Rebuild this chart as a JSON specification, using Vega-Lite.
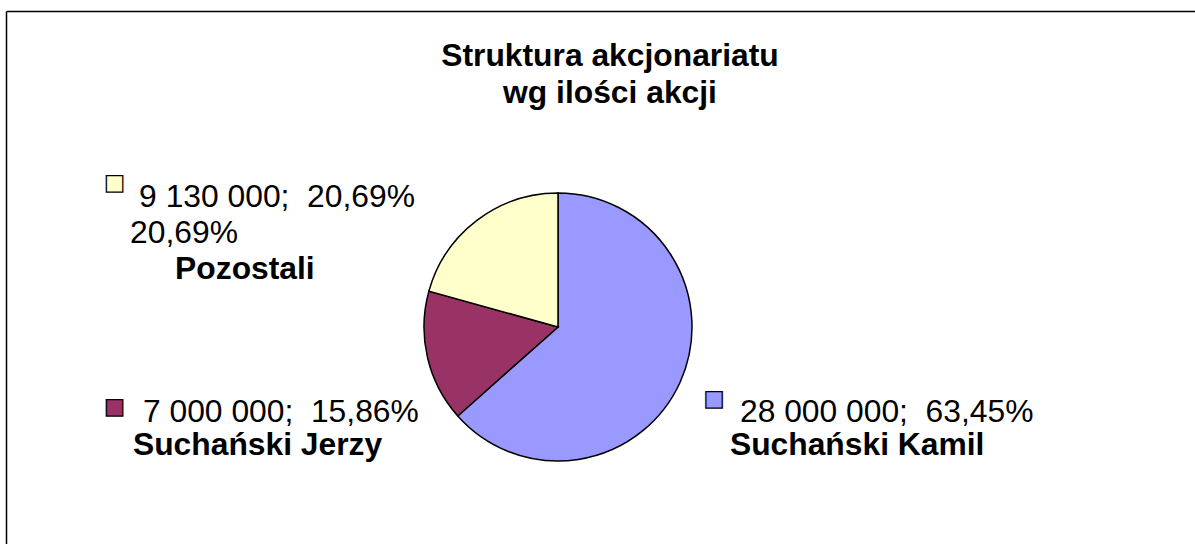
{
  "$schema": "https://vega.github.io/schema/vega-lite/v6.json",
  "width": 1189,
  "height": 533,
  "autosize": {"type": "none"},
  "padding": {"left": 6, "top": 11, "right": 0, "bottom": 0},
  "background": "white",
  "config": {"view": {"stroke": null}, "font": "Liberation Sans"},
  "title": {
    "text": ["Struktura akcjonariatu", "wg ilości akcji"],
    "font": "Liberation Sans",
    "fontSize": 31.8,
    "fontWeight": "bold",
    "color": "black",
    "anchor": "middle",
    "frame": "group",
    "lineHeight": 37,
    "offset": 0,
    "dx": 9.5,
    "dy": 99
  },
  "data": {
    "values": [
      {"cat": "Suchański Kamil", "k": "K", "value": 28000000, "l1": "28 000 000;\u00a0 63,45%", "name": "Suchański Kamil"},
      {"cat": "Suchański Jerzy", "k": "J", "value": 7000000, "l1": "7 000 000;\u00a0 15,86%", "name": "Suchański Jerzy"},
      {"cat": "Pozostali", "k": "P", "value": 9130000, "l1": "9 130 000;\u00a0 20,69%", "l2": "20,69%", "name": "Pozostali"}
    ]
  },
  "layer": [
    {
      "data": {"values": [{}]},
      "mark": {"type": "point", "opacity": 0},
      "encoding": {
        "x": {"datum": 0, "type": "quantitative", "scale": {"domain": [-1, 1]}, "axis": {"orient": "top", "ticks": false, "labels": false, "grid": false, "title": null, "domainColor": "black", "domainWidth": 1.5}},
        "y": {"datum": 0, "type": "quantitative", "scale": {"domain": [-1, 1]}, "axis": {"orient": "left", "ticks": false, "labels": false, "grid": false, "title": null, "domainColor": "black", "domainWidth": 1.5}}
      }
    },
    {
      "mark": {"type": "arc", "outerRadius": 134, "stroke": "black", "strokeWidth": 1.5, "xOffset": -42.5, "yOffset": 49.5},
      "encoding": {
        "theta": {"field": "value", "type": "quantitative", "stack": true},
        "color": {"field": "cat", "type": "nominal", "scale": {"domain": ["Suchański Kamil", "Suchański Jerzy", "Pozostali"], "range": ["#9999FF", "#993366", "#FFFFCC"]}, "legend": null},
        "order": {"field": "cat", "sort": "descending"}
      }
    },
    {
      "mark": {"type": "text", "radius": 170, "align": "center", "baseline": "middle", "font": "Liberation Sans", "fontSize": 34, "fill": "#FFFFCC", "stroke": "black", "strokeWidth": 1.3, "xOffset": -42.5, "yOffset": 49.5, "dx": -340.6, "dy": -7.6},
      "encoding": {
        "theta": {"field": "value", "type": "quantitative", "stack": true},
        "order": {"field": "cat", "sort": "descending"},
        "detail": {"field": "cat", "type": "nominal"},
        "text": {"condition": {"test": "datum.k === 'P'", "value": "■"}, "value": ""}
      }
    },
    {
      "mark": {"type": "text", "radius": 170, "align": "left", "baseline": "alphabetic", "font": "Liberation Sans", "fontSize": 31.8, "fill": "black", "xOffset": -42.5, "yOffset": 49.5, "dx": -316, "dy": 15.4},
      "encoding": {
        "theta": {"field": "value", "type": "quantitative", "stack": true},
        "order": {"field": "cat", "sort": "descending"},
        "detail": {"field": "cat", "type": "nominal"},
        "text": {"condition": {"test": "datum.k === 'P'", "field": "l1", "type": "nominal"}, "value": ""}
      }
    },
    {
      "mark": {"type": "text", "radius": 170, "align": "left", "baseline": "alphabetic", "font": "Liberation Sans", "fontSize": 31.8, "fill": "black", "xOffset": -42.5, "yOffset": 49.5, "dx": -325, "dy": 51.4},
      "encoding": {
        "theta": {"field": "value", "type": "quantitative", "stack": true},
        "order": {"field": "cat", "sort": "descending"},
        "detail": {"field": "cat", "type": "nominal"},
        "text": {"condition": {"test": "datum.k === 'P'", "field": "l2", "type": "nominal"}, "value": ""}
      }
    },
    {
      "mark": {"type": "text", "radius": 170, "align": "left", "baseline": "alphabetic", "font": "Liberation Sans", "fontSize": 31.8, "fontWeight": "bold", "fill": "black", "xOffset": -42.5, "yOffset": 49.5, "dx": -280, "dy": 87.4},
      "encoding": {
        "theta": {"field": "value", "type": "quantitative", "stack": true},
        "order": {"field": "cat", "sort": "descending"},
        "detail": {"field": "cat", "type": "nominal"},
        "text": {"condition": {"test": "datum.k === 'P'", "field": "name", "type": "nominal"}, "value": ""}
      }
    },
    {
      "mark": {"type": "text", "radius": 170, "align": "center", "baseline": "middle", "font": "Liberation Sans", "fontSize": 34, "fill": "#993366", "stroke": "black", "strokeWidth": 1.3, "xOffset": -42.5, "yOffset": 49.5, "dx": -277.9, "dy": 42.7},
      "encoding": {
        "theta": {"field": "value", "type": "quantitative", "stack": true},
        "order": {"field": "cat", "sort": "descending"},
        "detail": {"field": "cat", "type": "nominal"},
        "text": {"condition": {"test": "datum.k === 'J'", "value": "■"}, "value": ""}
      }
    },
    {
      "mark": {"type": "text", "radius": 170, "align": "left", "baseline": "alphabetic", "font": "Liberation Sans", "fontSize": 31.8, "fill": "black", "xOffset": -42.5, "yOffset": 49.5, "dx": -249.4, "dy": 56.7},
      "encoding": {
        "theta": {"field": "value", "type": "quantitative", "stack": true},
        "order": {"field": "cat", "sort": "descending"},
        "detail": {"field": "cat", "type": "nominal"},
        "text": {"condition": {"test": "datum.k === 'J'", "field": "l1", "type": "nominal"}, "value": ""}
      }
    },
    {
      "mark": {"type": "text", "radius": 170, "align": "left", "baseline": "alphabetic", "font": "Liberation Sans", "fontSize": 31.8, "fontWeight": "bold", "fill": "black", "xOffset": -42.5, "yOffset": 49.5, "dx": -259.4, "dy": 89.7},
      "encoding": {
        "theta": {"field": "value", "type": "quantitative", "stack": true},
        "order": {"field": "cat", "sort": "descending"},
        "detail": {"field": "cat", "type": "nominal"},
        "text": {"condition": {"test": "datum.k === 'J'", "field": "name", "type": "nominal"}, "value": ""}
      }
    },
    {
      "mark": {"type": "text", "radius": 170, "align": "center", "baseline": "middle", "font": "Liberation Sans", "fontSize": 34, "fill": "#9999FF", "stroke": "black", "strokeWidth": 1.3, "xOffset": -42.5, "yOffset": 49.5, "dx": 0.9, "dy": 3.3},
      "encoding": {
        "theta": {"field": "value", "type": "quantitative", "stack": true},
        "order": {"field": "cat", "sort": "descending"},
        "detail": {"field": "cat", "type": "nominal"},
        "text": {"condition": {"test": "datum.k === 'K'", "value": "■"}, "value": ""}
      }
    },
    {
      "mark": {"type": "text", "radius": 170, "align": "left", "baseline": "alphabetic", "font": "Liberation Sans", "fontSize": 31.8, "fill": "black", "xOffset": -42.5, "yOffset": 49.5, "dx": 26.9, "dy": 25.3},
      "encoding": {
        "theta": {"field": "value", "type": "quantitative", "stack": true},
        "order": {"field": "cat", "sort": "descending"},
        "detail": {"field": "cat", "type": "nominal"},
        "text": {"condition": {"test": "datum.k === 'K'", "field": "l1", "type": "nominal"}, "value": ""}
      }
    },
    {
      "mark": {"type": "text", "radius": 170, "align": "left", "baseline": "alphabetic", "font": "Liberation Sans", "fontSize": 31.8, "fontWeight": "bold", "fill": "black", "xOffset": -42.5, "yOffset": 49.5, "dx": 16.9, "dy": 58.3},
      "encoding": {
        "theta": {"field": "value", "type": "quantitative", "stack": true},
        "order": {"field": "cat", "sort": "descending"},
        "detail": {"field": "cat", "type": "nominal"},
        "text": {"condition": {"test": "datum.k === 'K'", "field": "name", "type": "nominal"}, "value": ""}
      }
    }
  ]
}
